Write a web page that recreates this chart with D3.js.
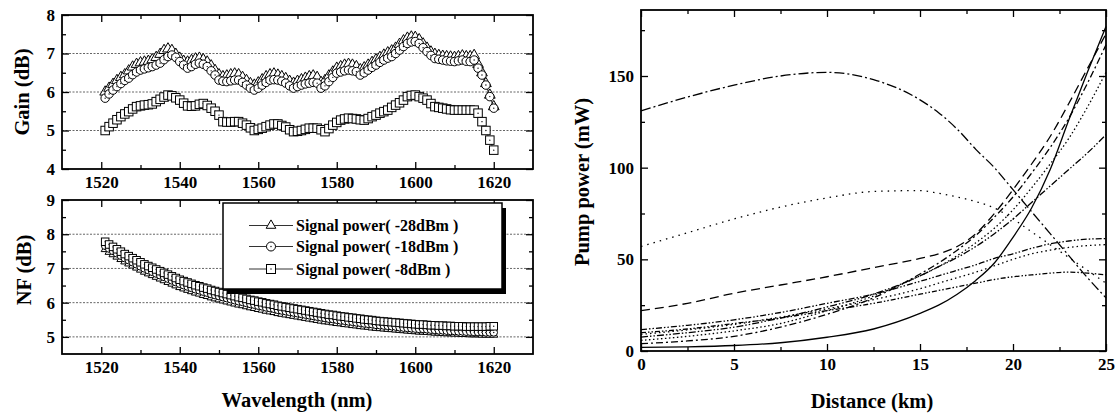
<!DOCTYPE html>
<html>
<head>
<meta charset="utf-8">
<script src="https://cdn.jsdelivr.net/npm/d3@7"></script>
<style>
  body { margin: 0; background: #fff; }
  svg { display: block; font-family: "Liberation Serif", "Times New Roman", serif; font-weight: bold; }
</style>
</head>
<body>
<div id="chart"></div>
<script>
////////////////////////////////////////////////////////////////////
////////////////////////////  Data  ////////////////////////////////
// wavelength grid of the measured points (nm), 1 nm apart
const wavelengths = d3.range(1521, 1621);

// gain (dB) for the three signal powers
const gain28 = [
  6.00, 6.10, 6.20, 6.30, 6.38, 6.45, 6.55, 6.65, 6.72, 6.76,
  6.78, 6.80, 6.84, 6.90, 6.98, 7.08, 7.12, 7.08, 6.98, 6.88,
  6.80, 6.78, 6.82, 6.86, 6.88, 6.84, 6.78, 6.68, 6.56, 6.45,
  6.40, 6.42, 6.45, 6.47, 6.45, 6.38, 6.30, 6.22, 6.18, 6.24,
  6.32, 6.40, 6.45, 6.47, 6.44, 6.40, 6.35, 6.28, 6.23, 6.28,
  6.32, 6.36, 6.40, 6.42, 6.38, 6.25, 6.30, 6.42, 6.52, 6.62,
  6.66, 6.70, 6.72, 6.70, 6.66, 6.58, 6.63, 6.70, 6.77, 6.84,
  6.90, 6.96, 7.02, 7.07, 7.14, 7.24, 7.33, 7.40, 7.43, 7.42,
  7.36, 7.25, 7.14, 7.04, 6.98, 6.95, 6.93, 6.92, 6.91, 6.90,
  6.92, 6.94, 6.92, 6.92, 6.95, 6.72, 6.50, 6.22, 5.92, 5.62
];
const gain18 = [
  5.84, 5.95, 6.05, 6.14, 6.22, 6.30, 6.36, 6.45, 6.52, 6.57,
  6.60, 6.63, 6.66, 6.70, 6.75, 6.84, 6.92, 6.96, 6.90, 6.79,
  6.70, 6.62, 6.66, 6.72, 6.75, 6.72, 6.66, 6.55, 6.44, 6.31,
  6.28, 6.27, 6.29, 6.31, 6.31, 6.25, 6.18, 6.10, 6.05, 6.10,
  6.18, 6.25, 6.31, 6.32, 6.31, 6.28, 6.23, 6.16, 6.10, 6.14,
  6.18, 6.21, 6.23, 6.25, 6.23, 6.10, 6.16, 6.27, 6.38, 6.49,
  6.52, 6.55, 6.57, 6.55, 6.53, 6.44, 6.50, 6.57, 6.64, 6.70,
  6.77, 6.83, 6.88, 6.92, 7.00, 7.09, 7.18, 7.26, 7.30, 7.31,
  7.26, 7.15, 7.05, 6.95, 6.87, 6.85, 6.83, 6.81, 6.80, 6.79,
  6.81, 6.83, 6.80, 6.79, 6.83, 6.62, 6.44, 6.18, 5.88, 5.58
];
const gain8 = [
  5.00, 5.10, 5.19, 5.28, 5.36, 5.43, 5.49, 5.56, 5.62, 5.64,
  5.66, 5.67, 5.69, 5.75, 5.81, 5.87, 5.92, 5.90, 5.85, 5.79,
  5.71, 5.64, 5.63, 5.64, 5.68, 5.70, 5.65, 5.58, 5.50, 5.40,
  5.23, 5.22, 5.22, 5.23, 5.23, 5.19, 5.14, 5.07, 5.00, 5.03,
  5.06, 5.10, 5.14, 5.17, 5.17, 5.13, 5.09, 5.02, 4.97, 4.98,
  5.00, 5.03, 5.06, 5.06, 5.06, 5.02, 4.97, 5.05, 5.14, 5.21,
  5.27, 5.30, 5.32, 5.31, 5.30, 5.28, 5.27, 5.31, 5.36, 5.40,
  5.45, 5.49, 5.53, 5.60, 5.66, 5.72, 5.79, 5.88, 5.91, 5.92,
  5.88, 5.84, 5.79, 5.70, 5.62, 5.60, 5.58, 5.56, 5.54, 5.53,
  5.53, 5.53, 5.53, 5.53, 5.53, 5.45, 5.23, 5.00, 4.75, 4.49
];

// noise figure (dB)
const nf28 = [
  7.56, 7.48, 7.41, 7.34, 7.27, 7.20, 7.14, 7.08, 7.02, 6.96,
  6.90, 6.85, 6.80, 6.75, 6.70, 6.65, 6.60, 6.55, 6.50, 6.45,
  6.41, 6.37, 6.33, 6.29, 6.26, 6.22, 6.19, 6.15, 6.12, 6.09,
  6.06, 6.03, 6.00, 5.97, 5.94, 5.92, 5.89, 5.86, 5.84, 5.81,
  5.79, 5.76, 5.74, 5.72, 5.69, 5.67, 5.65, 5.63, 5.61, 5.59,
  5.57, 5.55, 5.53, 5.51, 5.49, 5.47, 5.45, 5.44, 5.42, 5.40,
  5.39, 5.37, 5.36, 5.34, 5.33, 5.31, 5.30, 5.29, 5.27, 5.26,
  5.25, 5.24, 5.23, 5.22, 5.21, 5.20, 5.19, 5.18, 5.17, 5.16,
  5.15, 5.15, 5.14, 5.13, 5.12, 5.12, 5.11, 5.10, 5.10, 5.09,
  5.09, 5.08, 5.08, 5.07, 5.07, 5.07, 5.06, 5.06, 5.06, 5.06
];
const nf18 = [
  7.66, 7.58, 7.51, 7.44, 7.37, 7.30, 7.24, 7.18, 7.12, 7.06,
  7.00, 6.95, 6.90, 6.85, 6.80, 6.75, 6.70, 6.65, 6.60, 6.55,
  6.51, 6.47, 6.43, 6.39, 6.36, 6.32, 6.29, 6.25, 6.22, 6.19,
  6.16, 6.13, 6.10, 6.07, 6.04, 6.02, 5.99, 5.96, 5.94, 5.91,
  5.89, 5.86, 5.84, 5.82, 5.79, 5.77, 5.75, 5.73, 5.71, 5.69,
  5.67, 5.65, 5.63, 5.61, 5.59, 5.57, 5.55, 5.53, 5.52, 5.50,
  5.48, 5.47, 5.45, 5.44, 5.42, 5.41, 5.39, 5.38, 5.37, 5.35,
  5.34, 5.33, 5.32, 5.31, 5.30, 5.28, 5.27, 5.26, 5.25, 5.24,
  5.23, 5.23, 5.22, 5.21, 5.20, 5.19, 5.19, 5.18, 5.17, 5.17,
  5.16, 5.16, 5.15, 5.15, 5.14, 5.14, 5.14, 5.13, 5.13, 5.13
];
const nf8 = [
  7.78, 7.70, 7.63, 7.56, 7.49, 7.42, 7.36, 7.30, 7.24, 7.18,
  7.12, 7.07, 7.02, 6.97, 6.92, 6.87, 6.82, 6.77, 6.72, 6.67,
  6.63, 6.59, 6.55, 6.51, 6.48, 6.44, 6.41, 6.37, 6.34, 6.31,
  6.28, 6.25, 6.22, 6.19, 6.16, 6.14, 6.11, 6.08, 6.06, 6.03,
  6.01, 5.98, 5.96, 5.94, 5.91, 5.89, 5.87, 5.85, 5.83, 5.81,
  5.79, 5.77, 5.75, 5.73, 5.71, 5.69, 5.67, 5.65, 5.64, 5.62,
  5.60, 5.59, 5.57, 5.56, 5.54, 5.53, 5.51, 5.50, 5.49, 5.47,
  5.46, 5.45, 5.44, 5.43, 5.42, 5.41, 5.40, 5.39, 5.38, 5.37,
  5.36, 5.36, 5.35, 5.34, 5.34, 5.33, 5.33, 5.32, 5.32, 5.31,
  5.31, 5.31, 5.30, 5.30, 5.30, 5.30, 5.30, 5.30, 5.31, 5.31
];

const legendLabels = ["Signal power( -28dBm )", "Signal power( -18dBm )", "Signal power( -8dBm )"];

// pump power along the fibre (mW)
const distanceKm = [0, 2.5, 5, 7.5, 10, 12.5, 15, 16, 17, 18, 19, 20, 21, 22, 23, 24, 25];
const pumpA = [131, 138.5, 145, 150, 152, 148, 137, 130, 121, 110, 100, 88, 76, 64, 52, 40, 29];
const pumpB = [57, 64.5, 72, 78.5, 83.5, 87, 87.5, 86, 84, 81.5, 78, 72, 65, 58, 51, 44, 37];
const pumpC = [22, 26, 31.5, 36, 40.5, 45.5, 50.5, 53, 57, 64, 75, 88, 102, 117, 135, 154, 173];
const pumpD = [2, 2.3, 3, 4.5, 7.5, 12, 20.5, 25, 31, 38.5, 48, 62, 78, 99, 126, 152, 177];
const pumpE = [4, 5.5, 8, 13, 20, 29, 42, 48, 55, 63, 73, 84, 97, 111, 127, 146, 167];
const pumpF = [5.8, 8, 11, 15, 22, 30, 41, 46, 52, 59, 67, 77, 89, 102, 116, 133, 152];
const pumpG = [7.6, 10, 13, 18, 24, 31, 41, 46, 51, 57, 64, 72, 81, 90, 99, 108, 118];
const pumpH = [11.7, 14, 17, 21, 26, 31, 38, 41, 44, 47, 50.5, 53, 56, 58.5, 60, 61, 61.3];
const pumpI = [9.1, 11.5, 14.5, 18.5, 23, 28, 34, 37, 40, 43, 46.5, 50, 53, 55, 56.5, 57.5, 58];
const pumpJ = [10, 12, 15, 18, 22, 26, 31, 33, 35, 37, 39, 40.5, 41.5, 42.5, 43, 42.5, 41.5];

////////////////////////////////////////////////////////////////////
////////////////////////////  Init  ////////////////////////////////
const width = 1117, height = 415;
const svg = d3.select("#chart").append("svg").attr("width", width).attr("height", height);

const tickFont = "bold 17px 'Liberation Serif', serif";
const titleFont = "bold 20.5px 'Liberation Serif', serif";

// panel boxes
const gainBox = { x0: 62, x1: 533, y0: 15, y1: 169 };
const nfBox = { x0: 62, x1: 533, y0: 200, y1: 354 };
const pumpBox = { x0: 641, x1: 1106, y0: 10, y1: 351 };

// scales
const xWave = d3.scaleLinear().domain([1510, 1630]).range([gainBox.x0, gainBox.x1]);
const yGain = d3.scaleLinear().domain([4, 8]).range([gainBox.y1, gainBox.y0]);
const yNF = d3.scaleLinear().domain([4.5, 9]).range([nfBox.y1, nfBox.y0]);
const xDist = d3.scaleLinear().domain([0, 25]).range([pumpBox.x0, pumpBox.x1]);
const yPump = d3.scaleLinear().domain([0, 186]).range([pumpBox.y1, pumpBox.y0]);

////////////////////////////////////////////////////////////////////
////////////////////////////  Axes  ////////////////////////////////
function frame(x, y, o) {
  const [xa, xb] = x.range();
  const [ya, yb] = y.range(); // ya bottom, yb top
  const g = svg.append("g");

  // dotted grid
  g.selectAll(".grid").data(o.grid || []).join("line")
    .attr("x1", xa).attr("x2", xb)
    .attr("y1", d => y(d)).attr("y2", d => y(d))
    .attr("stroke", "#666").attr("stroke-width", 1).attr("stroke-dasharray", "2,1.5");

  const style = sel => {
    sel.select(".domain").remove();
    sel.selectAll("line").attr("stroke", "#000").attr("stroke-width", 1.3);
    sel.selectAll("text").style("font", tickFont).attr("fill", "#000");
  };

  g.append("g").attr("transform", `translate(0,${ya})`)
    .call(d3.axisBottom(x).tickValues(o.xMajor).tickSize(-7).tickPadding(7).tickFormat(d3.format("d"))).call(style);
  g.append("g").attr("transform", `translate(0,${ya})`)
    .call(d3.axisBottom(x).tickValues(o.xMinor).tickSize(-4).tickFormat("")).call(style);
  g.append("g").attr("transform", `translate(0,${yb})`)
    .call(d3.axisTop(x).tickValues(o.xMajor).tickSize(-7).tickFormat("")).call(style);
  g.append("g").attr("transform", `translate(0,${yb})`)
    .call(d3.axisTop(x).tickValues(o.xMinor).tickSize(-4).tickFormat("")).call(style);

  g.append("g").attr("transform", `translate(${xa},0)`)
    .call(d3.axisLeft(y).tickValues(o.yMajor).tickSize(-7).tickPadding(7).tickFormat(d3.format("d"))).call(style);
  g.append("g").attr("transform", `translate(${xa},0)`)
    .call(d3.axisLeft(y).tickValues(o.yMinor).tickSize(-4).tickFormat("")).call(style);
  g.append("g").attr("transform", `translate(${xb},0)`)
    .call(d3.axisRight(y).tickValues(o.yMajor).tickSize(-7).tickFormat("")).call(style);
  g.append("g").attr("transform", `translate(${xb},0)`)
    .call(d3.axisRight(y).tickValues(o.yMinor).tickSize(-4).tickFormat("")).call(style);

  g.append("rect")
    .attr("x", xa).attr("y", yb).attr("width", xb - xa).attr("height", ya - yb)
    .attr("fill", "none").attr("stroke", "#000").attr("stroke-width", 1.8);
  return g;
}

const waveMajor = [1520, 1540, 1560, 1580, 1600, 1620];
const waveMinor = [1530, 1550, 1570, 1590, 1610];

frame(xWave, yGain, {
  xMajor: waveMajor, xMinor: waveMinor,
  yMajor: [4, 5, 6, 7, 8], yMinor: [4.5, 5.5, 6.5, 7.5], grid: [5, 6, 7]
});
frame(xWave, yNF, {
  xMajor: waveMajor, xMinor: waveMinor,
  yMajor: [5, 6, 7, 8, 9], yMinor: [5.5, 6.5, 7.5, 8.5], grid: [5, 6, 7, 8]
});
frame(xDist, yPump, {
  xMajor: [0, 5, 10, 15, 20, 25], xMinor: [2.5, 7.5, 12.5, 17.5, 22.5],
  yMajor: [0, 50, 100, 150], yMinor: [25, 75, 125, 175]
});

////////////////////////////////////////////////////////////////////
////////////////////////////  Markers  /////////////////////////////
function marker(sel, type, size) {
  if (type === "circle") {
    sel.append("circle").attr("r", size / 2)
      .attr("fill", "#fff").attr("stroke", "#000").attr("stroke-width", 1);
  } else if (type === "square") {
    sel.append("rect").attr("x", -size / 2).attr("y", -size / 2).attr("width", size).attr("height", size)
      .attr("fill", "#fff").attr("stroke", "#000").attr("stroke-width", 1);
  } else {
    sel.append("path").attr("d", d3.symbol(d3.symbolTriangle, size * size * 0.5)())
      .attr("fill", "#fff").attr("stroke", "#000").attr("stroke-width", 1);
  }
  if (type !== "triangle") {
    sel.append("circle").attr("r", 0.7).attr("fill", "#000");
  }
}

const markerTypes = ["triangle", "circle", "square"];

function series(y, values, type, size) {
  const data = wavelengths.map((w, i) => ({ w, v: values[i] }));
  const line = d3.line().x(d => xWave(d.w)).y(d => y(d.v));
  svg.append("path").datum(data)
    .attr("fill", "none").attr("stroke", "#333").attr("stroke-width", 0.8).attr("d", line);
  svg.append("g").selectAll("g").data(data).join("g")
    .attr("transform", d => `translate(${xWave(d.w)},${y(d.v)})`)
    .each(function () { marker(d3.select(this), type, size); });
}

const gainSizes = [10, 8.5, 8.5];
[gain28, gain18, gain8].forEach((vals, i) => series(yGain, vals, markerTypes[i], gainSizes[i]));
[nf28, nf18, nf8].forEach((vals, i) => series(yNF, vals, markerTypes[i], 7.5));

////////////////////////////////////////////////////////////////////
////////////////////////////  Legend  //////////////////////////////
const legend = svg.append("g").attr("transform", "translate(223,203)");
legend.append("rect").attr("x", 4).attr("y", 5).attr("width", 279).attr("height", 86).attr("fill", "#000");
legend.append("rect").attr("x", 0).attr("y", 0).attr("width", 279).attr("height", 86)
  .attr("fill", "#fff").attr("stroke", "#000").attr("stroke-width", 1.5);

const legendRows = legend.selectAll(".row").data(legendLabels).join("g")
  .attr("transform", (d, i) => `translate(0,${[22.5, 43.5, 66][i]})`);
legendRows.append("line").attr("x1", 26).attr("x2", 70)
  .attr("stroke", "#333").attr("stroke-width", 1);
legendRows.append("g").attr("transform", "translate(48,0)")
  .each(function (d, i) { marker(d3.select(this), markerTypes[i], 9); });
legendRows.append("text").attr("x", 73).attr("dy", "0.35em")
  .style("font", "bold 16px 'Liberation Serif', serif").text(d => d);

////////////////////////////////////////////////////////////////////
////////////////////////////  Pump lines  //////////////////////////
const pumpSeries = [
  { values: pumpA, dash: "10,3,2,3" },
  { values: pumpB, dash: "1.5,5" },
  { values: pumpC, dash: "9,5" },
  { values: pumpD, dash: null },
  { values: pumpE, dash: "7,3,2,3" },
  { values: pumpF, dash: "1.5,2.5" },
  { values: pumpG, dash: "7,2,1.5,2,1.5,2" },
  { values: pumpH, dash: "6,2,1.5,2,1.5,2" },
  { values: pumpI, dash: "1.5,3" },
  { values: pumpJ, dash: "5,2,1.5,2,1.5,2" }
];

const pumpLine = d3.line()
  .curve(d3.curveMonotoneX)
  .x((d, i) => xDist(distanceKm[i]))
  .y(d => yPump(d));

svg.append("g").selectAll("path").data(pumpSeries).join("path")
  .attr("fill", "none").attr("stroke", "#000").attr("stroke-width", 1.3)
  .attr("stroke-dasharray", d => d.dash)
  .attr("d", d => pumpLine(d.values));

////////////////////////////////////////////////////////////////////
////////////////////////////  Titles  //////////////////////////////
const title = (x, y, rot, txt) => svg.append("text")
  .attr("transform", `translate(${x},${y}) rotate(${rot})`)
  .attr("text-anchor", "middle").style("font", titleFont).text(txt);

title(29, 92, -90, "Gain (dB)");
title(31, 270, -90, "NF (dB)");
title(297, 407, 0, "Wavelength (nm)");
title(589, 182, -90, "Pump power (mW)");
title(872, 408, 0, "Distance (km)");
</script>
</body>
</html>
